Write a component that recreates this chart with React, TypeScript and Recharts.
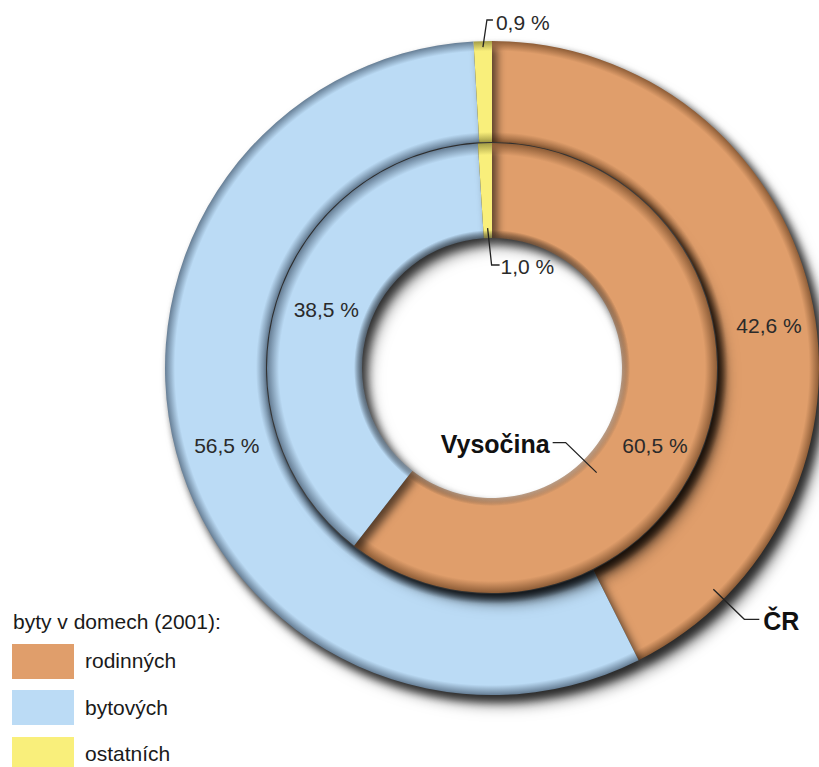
import React from 'react';
import { PieChart, Pie, Cell, Legend } from 'recharts';

// byty v domech (2001) – share by type of house, Vysočina (inner ring) vs. ČR (outer ring)
const CATEGORIES = ['rodinných', 'bytových', 'ostatních'];
const CR_VALUES = [42.6, 56.5, 0.9];
const VYSOCINA_VALUES = [60.5, 38.5, 1.0];
const LEGEND_TITLE = 'byty v domech (2001):';

const COLORS = ['#E09E6B', '#BBDBF5', '#F9EF7B'];
const SHADES = ['#8E5D37', '#667E95', '#A39C45'];

const crData = CATEGORIES.map((name, i) => ({ name, value: CR_VALUES[i] }));
const vysocinaData = CATEGORIES.map((name, i) => ({ name, value: VYSOCINA_VALUES[i] }));

const CX = 492;
const CY = 368;
const OUTER = { inner: 226, outer: 327, name: 'ČR' };
const INNER = { inner: 130, outer: 225, name: 'Vysočina' };
const FONT = '"Liberation Sans", Arial, Helvetica, sans-serif';
const RAD = Math.PI / 180;

// small hand nudges so the labels sit where the original has them
const NUDGE: Record<string, [number, number][]> = {
    ČR: [[8, 21], [2, 6]],
    Vysočina: [[-5, 20], [4, -6]],
};

const fmt = (v: number) => v.toFixed(1).replace('.', ',') + ' %';

const polar = (cx: number, cy: number, r: number, angle: number) => ({
    x: cx + r * Math.cos(-angle * RAD),
    y: cy + r * Math.sin(-angle * RAD),
});

const makeLabel = (ring: 'outer' | 'inner') => (props: any) => {
    const { cx, cy, midAngle, innerRadius, outerRadius, value, index } = props;
    const name = ring === 'outer' ? OUTER.name : INNER.name;
    const textStyle = { fontFamily: FONT, fontSize: 21, fill: '#2a2a2a' };

    if (index === 2) {
        // thin "ostatních" slice: leader line out of the ring
        if (ring === 'outer') {
            const p1 = polar(cx, cy, outerRadius - 6, midAngle);
            const p2 = { x: p1.x + 4, y: cy - (outerRadius + 21) };
            const p3 = { x: p2.x + 6, y: p2.y };
            return (
                <g>
                    <polyline points={`${p1.x},${p1.y} ${p2.x},${p2.y} ${p3.x},${p3.y}`} fill="none" stroke="#222" strokeWidth={1.3} />
                    <text x={p3.x + 3} y={p3.y + 2} dominantBaseline="central" style={textStyle}>{fmt(value)}</text>
                </g>
            );
        }
        const p1 = polar(cx, cy, innerRadius + 10, midAngle);
        const p2 = { x: p1.x + 4, y: cy - (innerRadius - 27) };
        const p3 = { x: p2.x + 8, y: p2.y };
        return (
            <g>
                <polyline points={`${p1.x},${p1.y} ${p2.x},${p2.y} ${p3.x},${p3.y}`} fill="none" stroke="#222" strokeWidth={1.3} />
                <text x={p3.x + 1} y={p3.y + 1} dominantBaseline="central" style={textStyle}>{fmt(value)}</text>
            </g>
        );
    }

    const r = (innerRadius + outerRadius) / 2;
    const p = polar(cx, cy, r, midAngle);
    const [dx, dy] = NUDGE[name][index];
    const label = (
        <text x={p.x + dx} y={p.y + dy} textAnchor="middle" dominantBaseline="central" style={textStyle}>
            {fmt(value)}
        </text>
    );
    if (index !== 0) return label;

    // ring name with a pointer into the "rodinných" slice at 135° clockwise from the top
    const nameStyle = { fontFamily: FONT, fontSize: 25, fontWeight: 700, fill: '#111' };
    if (ring === 'inner') {
        const tip = polar(cx, cy, innerRadius + 18, -45);
        const elbow = { x: tip.x - 31, y: tip.y - 30 };
        const end = { x: elbow.x - 13, y: elbow.y };
        return (
            <g>
                {label}
                <polyline points={`${tip.x},${tip.y} ${elbow.x},${elbow.y} ${end.x},${end.y}`} fill="none" stroke="#222" strokeWidth={1.3} />
                <text x={end.x - 3} y={end.y + 1} textAnchor="end" dominantBaseline="central" style={nameStyle}>{name}</text>
            </g>
        );
    }
    const tip = polar(cx, cy, outerRadius - 14, -45);
    const elbow = { x: tip.x + 31, y: tip.y + 30 };
    const end = { x: elbow.x + 15, y: elbow.y };
    return (
        <g>
            {label}
            <polyline points={`${tip.x},${tip.y} ${elbow.x},${elbow.y} ${end.x},${end.y}`} fill="none" stroke="#222" strokeWidth={1.3} />
            <text x={end.x + 4} y={end.y + 2} dominantBaseline="central" style={nameStyle}>{name}</text>
        </g>
    );
};

const f = (r: number) => r / OUTER.outer;

const LegendBox = () => (
    <div style={{ fontFamily: FONT, color: '#1a1a1a' }}>
        <div style={{ fontSize: 21, height: 32, lineHeight: '32px', marginLeft: 1 }}>{LEGEND_TITLE}</div>
        {CATEGORIES.map((c, i) => (
            <div key={c} style={{ display: 'flex', alignItems: 'center', height: 46.5 }}>
                <div style={{ width: 62, height: 35, background: COLORS[i] }} />
                <span style={{ fontSize: 21, marginLeft: 11 }}>{c}</span>
            </div>
        ))}
    </div>
);

export default function App() {
    return (
        <div style={{ width: 819, height: 767, position: 'relative', background: '#fff', overflow: 'hidden' }}>
            <style>{`
                body { margin: 0; }
                .ring-shade { filter: drop-shadow(5px 6px 4px rgba(0,0,0,0.6)); }
            `}</style>
            <PieChart width={819} height={767} margin={{ top: 0, right: 0, bottom: 0, left: 0 }}>
                <defs>
                    {COLORS.map((c, i) => (
                        <radialGradient key={c} id={`bevel-${i}`} gradientUnits="userSpaceOnUse" cx={CX} cy={CY} r={OUTER.outer}>
                            <stop offset={f(INNER.inner)} stopColor={SHADES[i]} stopOpacity={0.6} />
                            <stop offset={f(INNER.inner + 8)} stopColor={c} />
                            <stop offset={f(INNER.outer - 12)} stopColor={c} />
                            <stop offset={f(INNER.outer)} stopColor={SHADES[i]} />
                            <stop offset={f(OUTER.inner)} stopColor={SHADES[i]} />
                            <stop offset={f(OUTER.inner + 10)} stopColor={c} />
                            <stop offset={f(OUTER.outer - 10)} stopColor={c} />
                            <stop offset={1} stopColor={SHADES[i]} />
                        </radialGradient>
                    ))}
                </defs>
                <Pie
                    className="ring-shade"
                    data={crData}
                    dataKey="value"
                    nameKey="name"
                    cx={CX}
                    cy={CY}
                    innerRadius={OUTER.inner}
                    outerRadius={OUTER.outer}
                    startAngle={90}
                    endAngle={-270}
                    stroke="none"
                    label={false}
                    isAnimationActive={false}
                >
                    {crData.map((d, i) => <Cell key={d.name} fill={`url(#bevel-${i})`} />)}
                </Pie>
                <Pie
                    className="ring-shade"
                    data={vysocinaData}
                    dataKey="value"
                    nameKey="name"
                    cx={CX}
                    cy={CY}
                    innerRadius={INNER.inner}
                    outerRadius={INNER.outer}
                    startAngle={90}
                    endAngle={-270}
                    stroke="none"
                    label={false}
                    isAnimationActive={false}
                >
                    {vysocinaData.map((d, i) => <Cell key={d.name} fill={`url(#bevel-${i})`} />)}
                </Pie>
                {/* label-only copies of the rings, so the drop shadow stays off the text */}
                <Pie
                    data={crData}
                    dataKey="value"
                    nameKey="name"
                    cx={CX}
                    cy={CY}
                    innerRadius={OUTER.inner}
                    outerRadius={OUTER.outer}
                    startAngle={90}
                    endAngle={-270}
                    fill="transparent"
                    stroke="none"
                    label={makeLabel('outer')}
                    labelLine={false}
                    isAnimationActive={false}
                />
                <Pie
                    data={vysocinaData}
                    dataKey="value"
                    nameKey="name"
                    cx={CX}
                    cy={CY}
                    innerRadius={INNER.inner}
                    outerRadius={INNER.outer}
                    startAngle={90}
                    endAngle={-270}
                    fill="transparent"
                    stroke="none"
                    label={makeLabel('inner')}
                    labelLine={false}
                    isAnimationActive={false}
                />
                <Legend
                    content={() => <LegendBox />}
                    wrapperStyle={{ position: 'absolute', left: 12, top: 606, width: 240, height: 170 }}
                />
            </PieChart>
        </div>
    );
}
